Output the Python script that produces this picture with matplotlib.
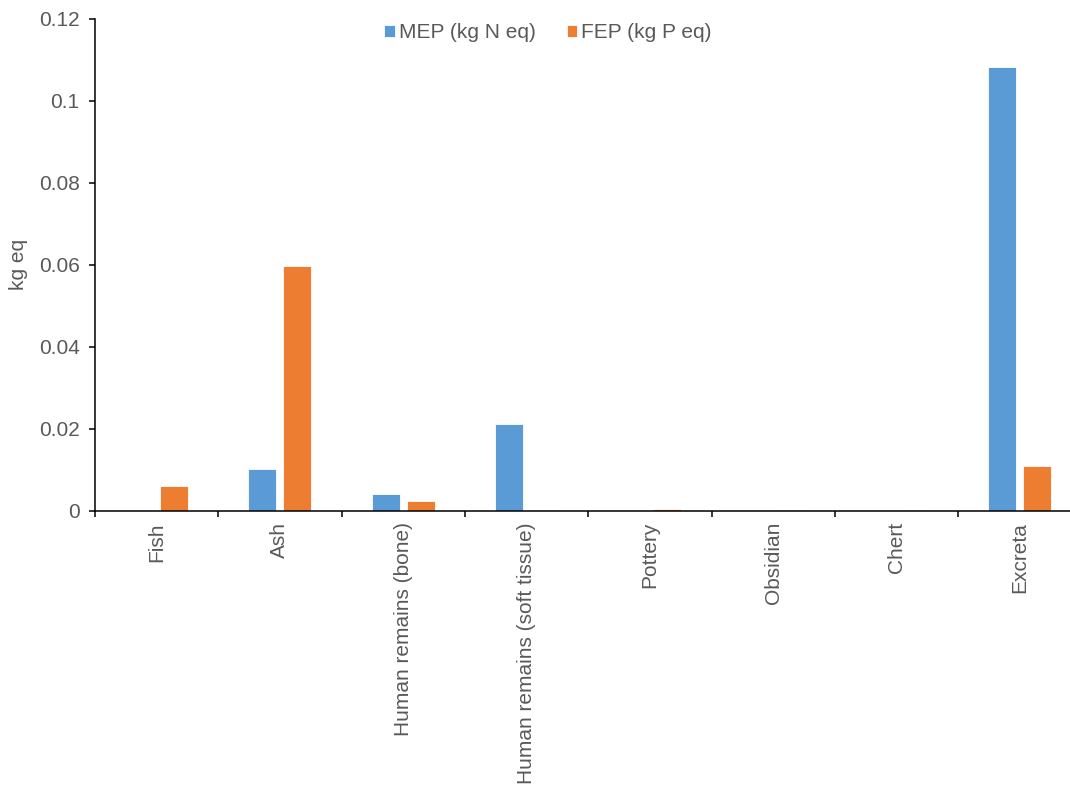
import matplotlib
matplotlib.use("Agg")
import matplotlib.pyplot as plt
import numpy as np

plt.rcParams['font.family'] = ['Liberation Sans', 'DejaVu Sans']

categories = ["Fish", "Ash", "Human remains (bone)", "Human remains (soft tissue)",
              "Pottery", "Obsidian", "Chert", "Excreta"]
mep = [0.0, 0.0102, 0.0042, 0.0212, 0.0, 0.00005, 0.00005, 0.1083]
fep = [0.0061, 0.0598, 0.0024, 0.0003, 0.0005, 0.0002, 0.0002, 0.0110]
series_names = ["MEP (kg N eq)", "FEP (kg P eq)"]
y_ticks = [0, 0.02, 0.04, 0.06, 0.08, 0.1, 0.12]
y_tick_labels = ["0", "0.02", "0.04", "0.06", "0.08", "0.1", "0.12"]

blue = "#5B9BD5"
orange = "#ED7D31"
text_col = "#595959"
fs = 15

fig = plt.figure(figsize=(10.70, 7.89), dpi=100)
W, H = 1070, 789
left_px, right_px, top_px, bottom_px = 95, 95 + 8 * 123.3, 19, 511
ax = fig.add_axes([left_px / W, 1 - bottom_px / H,
                   (right_px - left_px) / W, (bottom_px - top_px) / H])

x = np.arange(len(categories))
bw = 0.227
off = 0.142
b1 = ax.bar(x - off, mep, bw, color=blue, edgecolor="white", linewidth=0.6, label=series_names[0])
b2 = ax.bar(x + off, fep, bw, color=orange, edgecolor="white", linewidth=0.6, label=series_names[1])

ax.set_xlim(-0.5, len(categories) - 0.5)
ax.set_ylim(0, 0.12)
ax.set_yticks(y_ticks)
ax.set_yticklabels(y_tick_labels)

ax.set_xticks(x)
ax.set_xticklabels(categories, rotation=90)
ax.set_xticks(np.arange(len(categories) + 1) - 0.5, minor=True)
ax.tick_params(axis="x", which="major", length=0, pad=8, labelsize=fs, labelcolor=text_col)
ax.tick_params(axis="x", which="minor", length=4, width=1.1, direction="out", color="black")
ax.tick_params(axis="y", which="major", length=4, width=1.1, direction="out", color="black",
               labelsize=fs, labelcolor=text_col, pad=7)

for s in ["top", "right"]:
    ax.spines[s].set_visible(False)
for s in ["left", "bottom"]:
    ax.spines[s].set_linewidth(1.1)
    ax.spines[s].set_color("black")

fig.text(18 / W, 1 - 264 / H, "kg eq", rotation=90, ha="center", va="center",
         fontsize=fs, color=text_col)

fig.legend(handles=[b1, b2], labels=series_names, loc="center",
           bbox_to_anchor=(548 / W, 1 - 33 / H), ncol=2, frameon=False,
           fontsize=fs, handlelength=0.5, handleheight=0.5, handletextpad=0.2,
           columnspacing=1.5, labelcolor=text_col)

fig.savefig("out.png", dpi=100)
